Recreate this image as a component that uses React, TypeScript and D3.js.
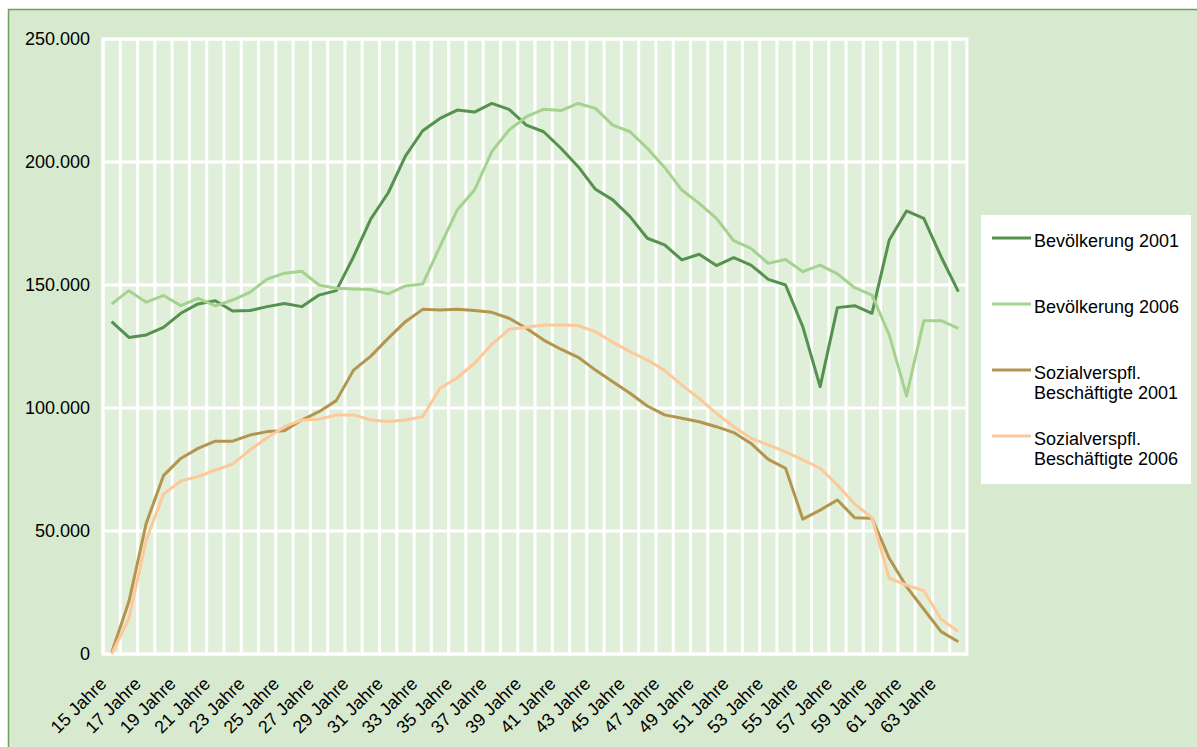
import React from "react";
import { scaleBand, scaleLinear, line } from "d3";

const ages = Array.from({ length: 50 }, (_, i) => `${15 + i} Jahre`);

const bev2001 = [
  135100, 128700, 129700, 132800, 138500, 142300, 143600, 139400, 139600, 141200,
  142500, 141200, 145900, 147700, 161500, 176900, 187400, 202400, 212700, 217700,
  221100, 220300, 223800, 221400, 215000, 212300, 205600, 198100, 188900, 184600,
  177800, 169000, 166300, 160200, 162500, 157900, 161100, 158100, 152300, 150000,
  133000, 108700, 140800, 141600, 138500, 168300, 180100, 177100, 161500, 147300,
];
const bev2006 = [
  142300, 147700, 143000, 145700, 141600, 144600, 141500, 143900, 147000, 152400,
  154800, 155600, 150000, 148700, 148400, 148200, 146400, 149600, 150400, 165600,
  180500, 188600, 204200, 213000, 218400, 221400, 220900, 223800, 221800, 215000,
  212300, 205600, 197800, 188600, 183200, 177100, 168000, 164900, 158800, 160400,
  155400, 158100, 154500, 148900, 145900, 129700, 104900, 135500, 135500, 132400,
];
const svb2001 = [
  500, 21300, 53100, 72500, 79500, 83600, 86500, 86500, 89000, 90400,
  90800, 95100, 98500, 103000, 115400, 121100, 128300, 135100, 140100, 139800,
  140100, 139600, 138900, 136500, 132400, 127600, 123900, 120600, 115400, 110700,
  106000, 100800, 97200, 95800, 94400, 92400, 90000, 85600, 79100, 75500,
  54800, 58500, 62600, 55400, 55200, 38900, 27400, 18200, 9100, 5000,
];
const svb2006 = [
  0, 14500, 46300, 65000, 70300, 72100, 74800, 77200, 82900, 87900,
  92400, 95100, 95400, 97200, 97200, 95100, 94500, 95100, 96500, 108000,
  112300, 118200, 125900, 132000, 132800, 133700, 133700, 133500, 131000, 126700,
  122900, 119500, 115300, 109300, 103900, 97800, 92400, 87700, 85000, 82200,
  78900, 75500, 68700, 61000, 55400, 30800, 28000, 25700, 14100, 9100,
];

const yTicks = [0, 50000, 100000, 150000, 200000, 250000];

const series = [
  { name: ["Bevölkerung 2001"], values: bev2001, color: "#55914f" },
  { name: ["Bevölkerung 2006"], values: bev2006, color: "#a5d38f" },
  { name: ["Sozialverspfl.", "Beschäftigte 2001"], values: svb2001, color: "#b4954f" },
  { name: ["Sozialverspfl.", "Beschäftigte 2006"], values: svb2006, color: "#fec99a" },
];

const fmt = (v: number) => (v === 0 ? "0" : `${v / 1000}.000`);

export default function App() {
  const plot = { left: 103, right: 967, top: 39, bottom: 654 };

  const x = scaleBand<string>().domain(ages).range([plot.left, plot.right]);
  const y = scaleLinear().domain([0, 250000]).range([plot.bottom, plot.top]);

  const path = line<number>()
    .x((_, i) => x(ages[i])! + x.bandwidth() / 2)
    .y((d) => y(d));

  const font = "'Liberation Sans', Arial, sans-serif";
  const legendY = [241, 307, 373, 439];

  return (
    <svg
      width={1197}
      height={747}
      style={{ position: "absolute", left: 0, top: 0 }}
      fontFamily={font}
    >
      <rect x={0} y={0} width={1197} height={747} fill="#ffffff" />
      <rect
        x={8.5}
        y={9.5}
        width={1220}
        height={780}
        fill="#d7eacf"
        stroke="#6aa060"
        strokeWidth={1.5}
      />
      {/* plot area */}
      <rect
        x={plot.left}
        y={plot.top}
        width={plot.right - plot.left}
        height={plot.bottom - plot.top}
        fill="#e0efd9"
        stroke="#ffffff"
        strokeWidth={3}
      />
      {ages.map((a) => (
        <line
          key={`v-${a}`}
          x1={x(a)}
          x2={x(a)}
          y1={plot.top}
          y2={plot.bottom}
          stroke="#ffffff"
          strokeWidth={3}
        />
      ))}
      {yTicks.map((t) => (
        <g key={`h-${t}`}>
          <line
            x1={plot.left}
            x2={plot.right}
            y1={y(t)}
            y2={y(t)}
            stroke="#ffffff"
            strokeWidth={3}
          />
          <text
            x={90}
            y={y(t)}
            dy="0.35em"
            textAnchor="end"
            fontSize={18}
            fill="#000"
          >
            {fmt(t)}
          </text>
        </g>
      ))}
      {ages
        .filter((_, i) => i % 2 === 0)
        .map((a) => {
          const cx = x(a)! + x.bandwidth() / 2;
          return (
            <text
              key={`l-${a}`}
              transform={`translate(${cx - 4}, 685) rotate(-45)`}
              textAnchor="end"
              fontSize={18}
              fill="#000"
            >
              {a}
            </text>
          );
        })}
      {series.map((s) => (
        <path
          key={s.name.join(" ")}
          d={path(s.values) ?? ""}
          fill="none"
          stroke={s.color}
          strokeWidth={3}
          strokeLinejoin="round"
        />
      ))}
      {/* legend */}
      <rect x={981} y={215} width={210} height={269} fill="#ffffff" />
      {series.map((s, i) => (
        <g key={`lg-${i}`}>
          <line
            x1={992}
            x2={1031}
            y1={legendY[i] - 3}
            y2={legendY[i] - 3}
            stroke={s.color}
            strokeWidth={3}
          />
          {s.name.map((n, j) => (
            <text
              key={n}
              x={1034}
              y={legendY[i] + j * 20}
              dy="0.35em"
              fontSize={18}
              fill="#000"
            >
              {n}
            </text>
          ))}
        </g>
      ))}
    </svg>
  );
}
